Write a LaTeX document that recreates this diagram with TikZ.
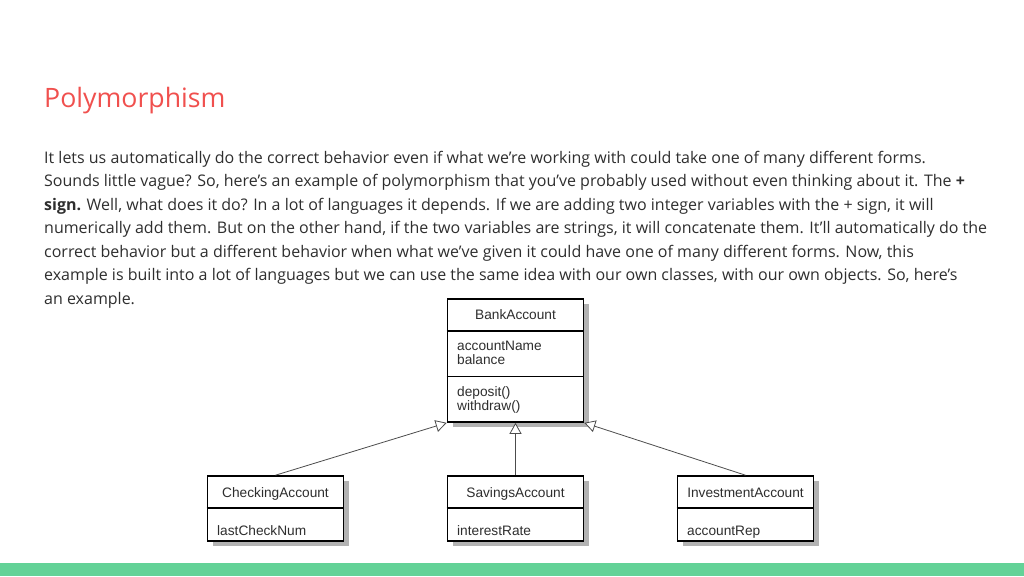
\documentclass[tikz,border=0pt]{standalone}
\usepackage{fontspec}
\setmainfont{Open Sans}
\newfontfamily\umlfont{Liberation Sans}
\usetikzlibrary{arrows.meta,shadows}

\definecolor{titlered}{HTML}{F0504E}
\definecolor{bodygray}{HTML}{2E2E2E}
\definecolor{bargreen}{HTML}{63D297}

\tikzset{
    classbox/.style={draw=black, line width=1.6pt, fill=white, minimum width=136pt,
        inner sep=0pt, drop shadow={shadow xshift=5pt, shadow yshift=-5pt, fill=black!30, opacity=1}},
    classname/.style={anchor=base, font=\umlfont\fontsize{13.7}{14}\selectfont, text=bodygray, inner sep=0pt},
    members/.style={anchor=base west, align=left, font=\umlfont\fontsize{13.7}{14}\selectfont, text=bodygray, inner sep=0pt},
    inherit/.style={draw=black!70, line width=0.8pt, -{Triangle[open, length=11pt, width=12pt, fill=white]}},
    bodyline/.style={anchor=base west, inner sep=0pt, text=bodygray, font=\fontsize{16}{18}\selectfont}
}

\begin{document}
\begin{tikzpicture}[x=1pt, y=-1pt]
    \useasboundingbox (0,0) rectangle (1024,576);
    % bottom bar
    \fill[bargreen] (0,563) rectangle (1024,576);

    % title and text
    \node[anchor=base west, inner sep=0pt, text=titlered, font=\fontsize{26.7}{30}\selectfont]
        (title) at (44,107) {Polymorphism};
    \foreach \txt [count=\i] in {
        {It lets us automatically do the correct behavior even if what we’re working with could take one of many different forms.},
        {Sounds little vague? So, here’s an example of polymorphism that you’ve probably used without even thinking about it. The \textbf{+}},
        {\textbf{sign.} Well, what does it do? In a lot of languages it depends. If we are adding two integer variables with the + sign, it will},
        {numerically add them. But on the other hand, if the two variables are strings, it will concatenate them. It’ll automatically do the},
        {correct behavior but a different behavior when what we’ve given it could have one of many different forms. Now, this},
        {example is built into a lot of languages but we can use the same idea with our own classes, with our own objects. So, here’s},
        {an example.}}
        \node[bodyline] (line\i) at (44,{163+23.5*(\i-1)}) {\txt};

    % base class
    \node[classbox, minimum height=123pt] (bank) at (515.5,360.5) {};
    \draw[line width=1.6pt] (bank.west |- 0,331) -- (bank.east |- 0,331);
    \draw[line width=1.6pt] (bank.west |- 0,376.5) -- (bank.east |- 0,376.5);
    \node[classname] (bankname) at (515.5,319.5) {BankAccount};
    \node[members] (bankattr) at (457,364) {accountName\\balance};
    \node[members] (bankops) at (457,410) {deposit()\\withdraw()};

    % subclasses
    \foreach \name/\title/\attr/\x in {checking/CheckingAccount/lastCheckNum/275.5,
                                        savings/SavingsAccount/interestRate/515.5,
                                        investment/InvestmentAccount/accountRep/745.5} {
        \node[classbox, minimum height=65pt] (\name) at (\x,508.5) {};
        \draw[line width=1.6pt] (\name.west |- 0,508) -- (\name.east |- 0,508);
        \node[classname] (\name title) at (\x,497) {\title};
        \node[members] (\name attr) at (\x-58.5,535) {\attr};
    }

    % generalisation arrows
    \draw[inherit] (checking.north) -- (bank.south west);
    \draw[inherit] (savings.north) -- (bank.south);
    \draw[inherit] (investment.north) -- (bank.south east);
\end{tikzpicture}
\end{document}
